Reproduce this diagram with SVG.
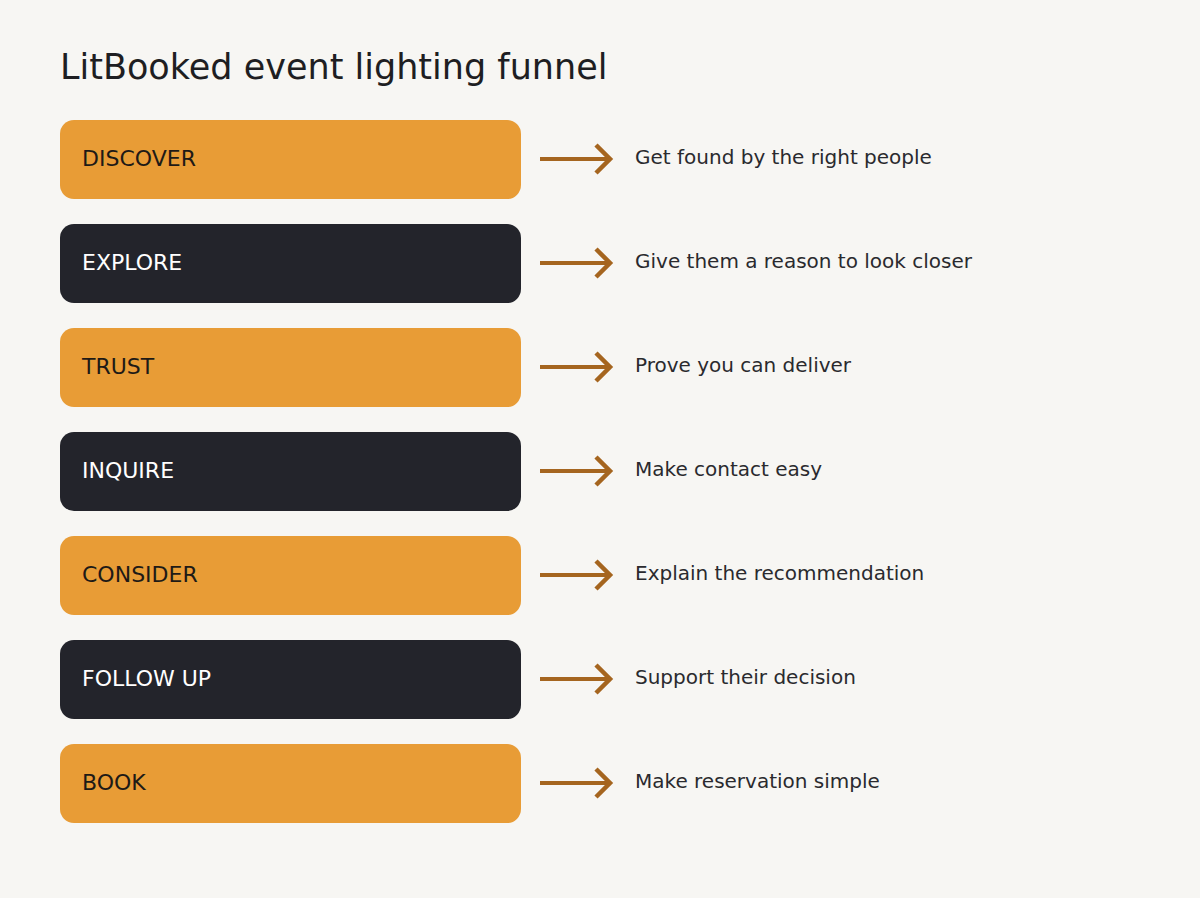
<svg xmlns="http://www.w3.org/2000/svg" width="1200" height="898" viewBox="0 0 1200 898">
<defs>
<marker id="chev" viewBox="0 0 20 32" refX="16" refY="16" markerWidth="20" markerHeight="32" markerUnits="userSpaceOnUse" orient="auto">
<path d="M2,2 L16,16 L2,30" fill="none" stroke="#A5651F" stroke-width="4.5"/>
</marker>
</defs>
<style>
text{font-family:"DejaVu Sans","Noto Sans",sans-serif}
.title{font-size:35px;fill:#1E1E22}
.box{stroke:none}
.light{fill:#E89C36}
.dark{fill:#23242B}
.lbl{font-size:22px;dominant-baseline:central}
.lbl.onlight{fill:#1E1A16}
.lbl.ondark{fill:#FFFFFF}
.desc{font-size:20px;fill:#2A2A2E;dominant-baseline:central}
.arrow{stroke:#A5651F;stroke-width:4;fill:none}
</style>
<rect width="1200" height="898" fill="#F7F6F3"/>
<text class="title" x="60" y="79">LitBooked event lighting funnel</text>
<g id="n-discover"><rect class="box light" x="60" y="120" width="461" height="79" rx="14"/><text class="lbl onlight" x="82" y="158">DISCOVER</text></g>
<g id="n-explore"><rect class="box dark" x="60" y="224" width="461" height="79" rx="14"/><text class="lbl ondark" x="82" y="262">EXPLORE</text></g>
<g id="n-trust"><rect class="box light" x="60" y="328" width="461" height="79" rx="14"/><text class="lbl onlight" x="82" y="366">TRUST</text></g>
<g id="n-inquire"><rect class="box dark" x="60" y="432" width="461" height="79" rx="14"/><text class="lbl ondark" x="82" y="470">INQUIRE</text></g>
<g id="n-consider"><rect class="box light" x="60" y="536" width="461" height="79" rx="14"/><text class="lbl onlight" x="82" y="574">CONSIDER</text></g>
<g id="n-followup"><rect class="box dark" x="60" y="640" width="461" height="79" rx="14"/><text class="lbl ondark" x="82" y="678">FOLLOW UP</text></g>
<g id="n-book"><rect class="box light" x="60" y="744" width="461" height="79" rx="14"/><text class="lbl onlight" x="82" y="782">BOOK</text></g>
<g id="connectors">
<line class="arrow" x1="540" y1="159" x2="610" y2="159" marker-end="url(#chev)"/>
<line class="arrow" x1="540" y1="263" x2="610" y2="263" marker-end="url(#chev)"/>
<line class="arrow" x1="540" y1="367" x2="610" y2="367" marker-end="url(#chev)"/>
<line class="arrow" x1="540" y1="471" x2="610" y2="471" marker-end="url(#chev)"/>
<line class="arrow" x1="540" y1="575" x2="610" y2="575" marker-end="url(#chev)"/>
<line class="arrow" x1="540" y1="679" x2="610" y2="679" marker-end="url(#chev)"/>
<line class="arrow" x1="540" y1="783" x2="610" y2="783" marker-end="url(#chev)"/>
</g>
<g id="descriptions">
<text class="desc" x="635" y="157">Get found by the right people</text>
<text class="desc" x="635" y="261">Give them a reason to look closer</text>
<text class="desc" x="635" y="365">Prove you can deliver</text>
<text class="desc" x="635" y="469">Make contact easy</text>
<text class="desc" x="635" y="573">Explain the recommendation</text>
<text class="desc" x="635" y="677">Support their decision</text>
<text class="desc" x="635" y="781">Make reservation simple</text>
</g>
</svg>
